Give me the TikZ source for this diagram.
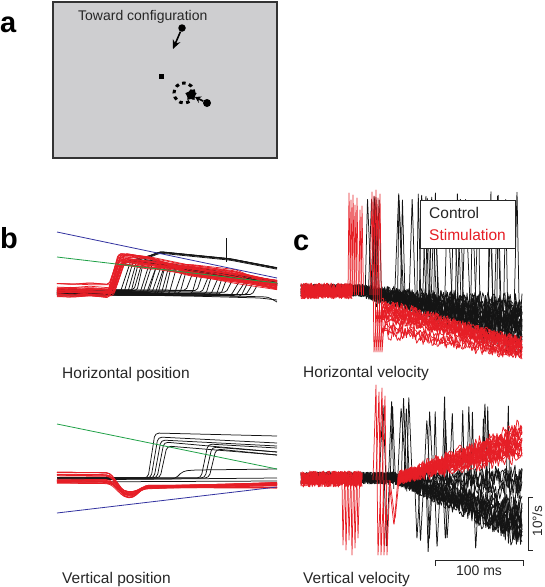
\documentclass[tikz,border=0pt]{standalone}
\usepackage{fontspec}
\setmainfont{Liberation Sans}
\usetikzlibrary{arrows.meta,shapes.geometric}
\definecolor{trred}{RGB}{230,30,38}
\definecolor{trblk}{RGB}{20,20,20}
\definecolor{bgray}{RGB}{206,206,208}
\definecolor{lblue}{RGB}{50,50,160}
\definecolor{lgreen}{RGB}{30,160,70}
\begin{document}
\begin{tikzpicture}[x=1pt,y=-1pt,
  lbl/.style={font=\fontsize{29}{29}\selectfont\bfseries, anchor=base west, inner sep=0},
  captxt/.style={font=\fontsize{15.5}{16}\selectfont, anchor=base west, inner sep=0, text=black!85},
  smallcap/.style={font=\fontsize{14}{14}\selectfont, inner sep=0, text=black!85},
  rtr/.style={trred, line width=0.75pt, line join=round},
  btr/.style={trblk, line width=0.75pt, line join=round},
  refline/.style={line width=0.8pt},
  scalebar/.style={line width=0.8pt, black!85},
  dotmark/.style={circle, fill=black, inner sep=0},
]
\useasboundingbox (0,0) rectangle (545,587);
\pgfmathsetseed{11}

% ---------------- panel a ----------------
\node[lbl] (la) at (0,32) {a};
\draw[draw=black!80, line width=1.6pt, fill=bgray] (53,2) rectangle (277,158);
\node[smallcap, anchor=base west] (tc) at (78,20) {Toward configuration};
\node[dotmark, minimum size=7.5pt] (d1) at (182,28) {};
\coordinate (t1) at (173,49);
\draw[line width=1.6pt, -{Stealth[length=9pt,width=8pt]}] (d1) -- (t1);
\node[fill=black, inner sep=0, minimum size=5pt] (sq) at (161,76) {};
\node[circle, draw=black, line width=3pt, dash pattern=on 3.5pt off 3.5pt,
      minimum size=20pt, inner sep=0] (ring) at (184,93) {};
\node[star, star points=5, fill=black, inner sep=0, minimum size=12pt] (st) at (191,95) {};
\node[dotmark, minimum size=8pt] (d2) at (207,103) {};
\draw[line width=1.6pt, -{Stealth[length=6pt,width=7pt]}] (d2) -- (st);

% ---------------- panel b : horizontal position ----------------
\node[lbl] (lb) at (0,248) {b};
\foreach \xo in {120,124,128,131,134,137,140,143,146,149,152,155,158,161,165,169,174,180,186,192,197,202,206,211,216,221,226,231,236,241,246,252}{
  \pgfmathsetmacro\r{3*rand}
  \pgfmathsetmacro\yb{291+\r+(\xo-110)*0.02}
  \pgfmathsetmacro\w{6+5*rnd}
  \pgfmathsetmacro\yt{257+(\xo+\w-120)*0.172+\r}
  \draw[btr, rounded corners=2pt] (57,{292+\r}) -- (\xo,\yb) -- ({\xo+\w},\yt) -- (277,{283+\r});
}
\foreach \i in {1,...,5}{
  \pgfmathsetmacro\r{2.5*rand}
  \draw[btr, rounded corners=3pt] (57,{292+\r}) -- (112,{292+\r}) -- (122,{262+\r}) -- (150,{255+\r}) -- (160,{251+\r}) -- (230,{258+\r}) -- (277,{267+\r});
}
\draw[btr, rounded corners=3pt] (57,293) -- (200,295) -- (268,297) -- (277,302);
\draw[btr, rounded corners=3pt] (57,294) -- (190,296) -- (260,298) -- (277,300);
\draw[btr] (226,262) -- (226,238);
\foreach \i in {1,...,30}{
  \pgfmathsetmacro\ya{290+7*rand}
  \pgfmathsetmacro\s{111+4*rand}
  \pgfmathsetmacro\yt{259+6*rand}
  \pgfmathsetmacro\ym{270+6*rand}
  \pgfmathsetmacro\yr{285+5*rand}
  \draw[rtr, rounded corners=2pt] (57,\ya) -- (72,{\ya+1.5*rand}) -- (90,{\ya+1.5*rand}) -- (\s,{\ya+1}) -- ({\s+11},\yt) -- (150,{\yt+4+2*rand}) -- (190,\ym) -- (235,{\ym+7+2*rand}) -- (277,\yr);
}
\draw[lblue, refline] (57,232) -- (277,278);
\draw[lgreen, refline] (57,257) -- (277,283);
\node[captxt] (hp) at (62,378) {Horizontal position};

% ---------------- panel b : vertical position ----------------
\foreach \xo/\tp/\re in {148/433/436,151/437/443,154/440/446,157/442/452,160/446/455,201/444/448,205/447/452,209/449/455}{
  \draw[btr, rounded corners=4pt] (57,478) -- (\xo,478) -- ({\xo+7},\tp) -- (277,\re);
}
\draw[btr, rounded corners=4pt] (57,479) -- (175,479) -- (183,471) -- (195,470) -- (277,469);
\draw[btr] (57,480) -- (277,478);
\draw[btr] (57,482) -- (277,481);
\foreach \i in {1,...,20}{
  \pgfmathsetmacro\r{(\i<10 ? 474+2*rand : 481+2.5*rand)}
  \pgfmathsetmacro\d{494+4*rand}
  \pgfmathsetmacro\yr{485+3*rand}
  \draw[rtr, rounded corners=4pt] (57,\r) -- (110,{\r+0.5}) -- (124,\d) -- (133,{\d+1}) -- (145,{487+2*rand}) -- (277,\yr);
}
\draw[lgreen, refline] (57,424) -- (277,469);
\draw[lblue, refline] (57,513) -- (277,487);
\node[captxt] (vp) at (62,583) {Vertical position};

% ---------------- panel c : horizontal velocity ----------------
\node[lbl] (lc) at (293,250) {c};
\foreach \i in {1,...,18}{
  \pgfmathsetmacro\k{0.22+0.12*rand}
  \draw[btr] plot[domain=301:522, samples=170] (\x, {290 + (\x>358)*(\x-358)*\k + (6+(\x>358)*(\x-358)*0.05)*rand});
}
\foreach \i in {1,...,30}{
  \pgfmathsetmacro\xs{366+152*rnd}
  \pgfmathsetmacro\tp{190+12*rnd}
  \pgfmathsetmacro\wa{1+3*rnd}
  \pgfmathsetmacro\wb{1.5+4*rnd}
  \pgfmathsetmacro\yb{292+(\xs-360)*0.2+8*rand}
  \draw[btr, rounded corners=1.5pt] ({\xs-\wa},\yb) -- (\xs,\tp) -- ({\xs+\wb},{\yb+6});
}
\draw[btr, rounded corners=4pt] (514,315) -- (517,190) -- (519,300) -- (522,320);
\foreach \i in {1,...,16}{
  \draw[rtr] plot[domain=301:352, samples=45] (\x, {291+8*rand});
}
\foreach \xs/\tp in {349/193,351/200,353/195,355/205,357/198,360/210,362/206}{
  \draw[rtr] ({\xs-1},292) -- (\xs,\tp) -- ({\xs+1.5},295);
}
\foreach \xs/\tp in {372/192,374/196,376/190,378/198,380/194}{
  \draw[rtr] ({\xs-2},295) -- (\xs,\tp) -- ({\xs+2},352) -- ({\xs+5},310);
}
\foreach \i in {1,...,18}{
  \pgfmathsetmacro\off{16*rand}
  \draw[rtr] plot[domain=382:522, samples=110] (\x, {318 + (\x-382)*0.22 + \off*(1-(\x-382)/250) + 6*rand});
}
\node[draw=black!85, fill=white, line width=0.8pt, minimum width=95pt, minimum height=48pt, inner sep=0] (leg) at (467.5,224) {};
\node[captxt] (lctl) at (429,218) {Control};
\node[captxt, text=trred] (lstim) at (429,240) {Stimulation};
\node[captxt] (hv) at (303,377) {Horizontal velocity};

% ---------------- panel c : vertical velocity ----------------
\foreach \i in {1,...,18}{
  \pgfmathsetmacro\k{0.25+0.25*rand}
  \draw[btr] plot[domain=301:522, samples=160] (\x, {478 + (\x>395)*(\x-395)*\k + (6+(\x>395)*(\x-395)*0.07)*rand});
}
\foreach \i in {1,...,20}{
  \pgfmathsetmacro\xs{368+145*rnd}
  \pgfmathsetmacro\tp{395+25*rnd}
  \pgfmathsetmacro\yb{480+(\xs-395)*0.2+8*rand}
  \pgfmathsetmacro\wa{1+3*rnd}
  \pgfmathsetmacro\wb{1.5+4*rnd}
  \draw[btr, rounded corners=1.5pt] ({\xs-\wa},\yb) -- (\xs,\tp) -- ({\xs+\wb},{\yb+4});
}
\foreach \i in {1,...,10}{
  \pgfmathsetmacro\xs{370+140*rnd}
  \pgfmathsetmacro\tp{538+17*rnd}
  \pgfmathsetmacro\yb{482+(\xs-395)*0.2+6*rand}
  \draw[btr, rounded corners=1.5pt] ({\xs-2},\yb) -- (\xs,\tp) -- ({\xs+3},{\yb-3});
}
\foreach \i in {1,...,14}{
  \draw[rtr] plot[domain=301:362, samples=50] (\x, {479+8*rand});
}
\foreach \xs/\tp in {343/545,346/550,349/540,352/555,355/548,358/538}{
  \draw[rtr] ({\xs-1},482) -- (\xs,\tp) -- ({\xs+1.5},484);
}
\foreach \xs/\tp in {376/385,379/392,382/388,385/396}{
  \draw[rtr] ({\xs-3},480) -- (\xs,\tp) -- ({\xs+2},555) -- ({\xs+5},480);
}
\draw[rtr, rounded corners=3pt] (389,480) -- (394,526) -- (398,478);
\draw[rtr, rounded corners=3pt] (390,481) -- (395,520) -- (399,480);
\foreach \i in {1,...,18}{
  \pgfmathsetmacro\off{18*rand}
  \draw[rtr] plot[domain=398:522, samples=100] (\x, {478 - (\x-398)*0.3 + \off*(\x-398)/124 + 7*rand});
}
\coordinate (vbt) at (528,497);
\coordinate (vbb) at (528,550);
\draw[scalebar] ([xshift=5pt]vbt) -- (vbt) -- (vbb) -- ([xshift=5pt]vbb);
\node[smallcap, rotate=90, anchor=south, font=\fontsize{13.5}{13.5}\selectfont] (vs) at (542.5,521) {10°/s};
\coordinate (hbl) at (435,560);
\coordinate (hbr) at (523,560);
\draw[scalebar] ([yshift=-6pt]hbl) -- (hbl) -- (hbr) -- ([yshift=-6pt]hbr);
\node[smallcap, anchor=base] (hs) at (479,575) {100 ms};
\node[captxt] (vv) at (303,583) {Vertical velocity};
\end{tikzpicture}
\end{document}
